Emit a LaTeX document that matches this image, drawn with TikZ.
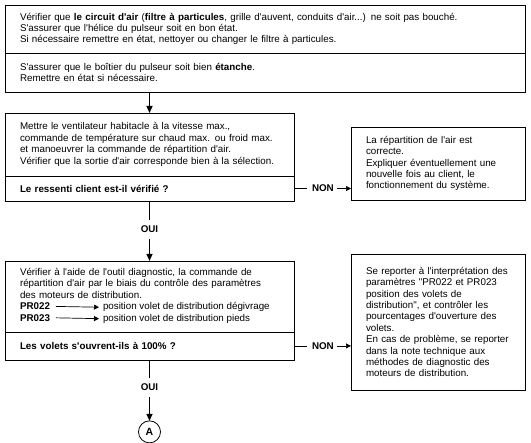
\documentclass[tikz,border=0pt]{standalone}
\usepackage{fontspec}
\setmainfont{Liberation Sans}[Ligatures=TeXOff]
\usetikzlibrary{positioning,arrows.meta}
\newcommand{\flowfont}{\fontsize{9.8}{11.4}\selectfont}
\begin{document}
\begin{tikzpicture}[x=1pt,y=-1pt,line width=0.8pt,
  every node/.style={font=\flowfont,inner sep=0pt,outer sep=0pt},
  sect/.style={draw,anchor=north west,align=left,inner xsep=15pt},
  quest/.style={sect,font=\flowfont\bfseries},
  rsect/.style={draw,anchor=north west,align=left,inner xsep=15pt,text width=144pt},
  lbl/.style={font=\flowfont\bfseries},
  flow/.style={line width=1.4pt,-{Triangle[length=7pt,width=6pt]}},
  side/.style={line width=0.7pt,-{Triangle[length=5pt,width=5pt]}}]
\useasboundingbox (0,0) rectangle (531,443);
% checks on the air circuit
\node[sect,text width=490pt,minimum height=48pt] (top1) at (5,5) {V\'erifier que \textbf{le circuit d'air} (\textbf{filtre \`a particules}, grille d'auvent, conduits d'air...) ne soit pas bouch\'e.\\
S'assurer que l'h\'elice du pulseur soit en bon \'etat.\\
Si n\'ecessaire remettre en \'etat, nettoyer ou changer le filtre \`a particules.};
\node[sect,text width=490pt,minimum height=39pt,below=0pt of top1] (top2) {S'assurer que le bo\^itier du pulseur soit bien \textbf{\'etanche}.\\
Remettre en \'etat si n\'ecessaire.};
% ventilation test
\node[sect,text width=259pt,minimum height=63pt] (b2a) at (5,113) {Mettre le ventilateur habitacle \`a la vitesse max.,\\
commande de temp\'erature sur chaud max. ou froid max.\\
et manoeuvrer la commande de r\'epartition d'air.\\
V\'erifier que la sortie d'air corresponde bien \`a la s\'election.};
\node[quest,text width=259pt,minimum height=25pt,below=0pt of b2a] (b2b) {Le ressenti client est-il v\'erifi\'e ?};
\node[rsect,minimum height=73pt] (rb1) at (351,127) {La r\'epartition de l'air est\\
correcte.\\
Expliquer \'eventuellement une\\
nouvelle fois au client, le\\
fonctionnement du syst\`eme.};
\node[lbl,right=18pt of b2b] (non1) {NON};
\node[lbl,below=25pt of b2b] (oui1) {OUI};
% diagnostic tool
\node[sect,text width=259pt,minimum height=71pt,below=28pt of oui1] (b3a) {V\'erifier \`a l'aide de l'outil diagnostic, la commande de\\
r\'epartition d'air par le biais du contr\^ole des param\`etres\\
des moteurs de distribution.\\ \strut\\ \strut};
\node[quest,text width=259pt,minimum height=28pt,below=0pt of b3a] (b3b) {Les volets s'ouvrent-ils \`a 100\% ?};
\node[lbl,anchor=base west] (p22) at (20,309.8) {PR022};
\node[lbl,anchor=base west] (p23) at (20,321.2) {PR023};
\node[anchor=base west] (d22) at (103,309.8) {position volet de distribution d\'egivrage};
\node[anchor=base west] (d23) at (103,321.2) {position volet de distribution pieds};
\node[rsect,minimum height=136pt] (rb2) at (351,254) {Se reporter \`a l'interpr\'etation des\\
param\`etres "PR022 et PR023\\
position des volets de\\
distribution", et contr\^oler les\\
pourcentages d'ouverture des\\
volets.\\
En cas de probl\`eme, se reporter\\
dans la note technique aux\\
m\'ethodes de diagnostic des\\
moteurs de distribution.};
\node[lbl,right=18pt of b3b] (non2) {NON};
\node[lbl,below=24pt of b3b] (oui2) {OUI};
\node[draw,circle,minimum size=22pt,font=\fontsize{10.5}{12}\selectfont\bfseries,below=30pt of oui2] (ca) {A};
% connectors
\draw[flow] (top2.south -| b2a.north) -- (b2a.north);
\draw (b2b.east) -- ([xshift=-5pt]non1.west);
\draw[side] ([xshift=3pt]non1.east) -- (non1.east -| rb1.west);
\draw (b2b.south) -- ([yshift=6pt]oui1.north);
\draw[flow] ([yshift=-6pt]oui1.south) -- (b3a.north);
\draw[side] ([xshift=6pt]p22.east) -- ([xshift=-4pt]d22.west);
\draw[side] ([xshift=6pt]p23.east) -- ([xshift=-4pt]d23.west);
\draw (b3b.east) -- ([xshift=-5pt]non2.west);
\draw[side] ([xshift=3pt]non2.east) -- (non2.east -| rb2.west);
\draw (b3b.south) -- ([yshift=6pt]oui2.north);
\draw[flow] ([yshift=-6pt]oui2.south) -- (ca.north);
\end{tikzpicture}
\end{document}
